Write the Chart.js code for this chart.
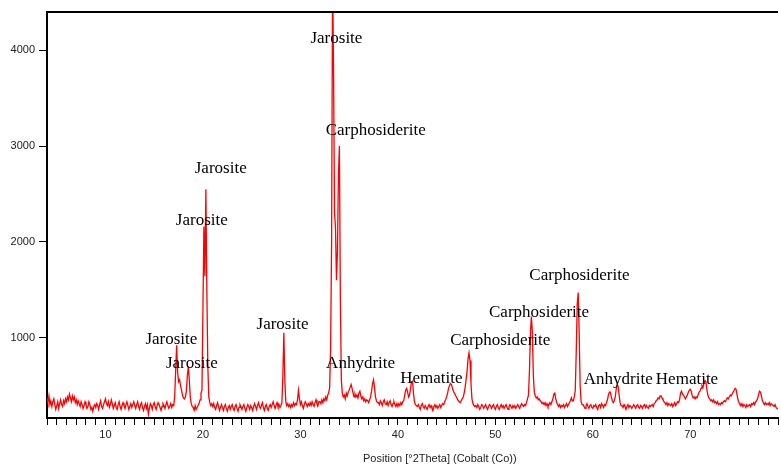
<!DOCTYPE html>
<html>
<head>
<meta charset="utf-8">
<script src="https://cdn.jsdelivr.net/npm/chart.js@4.4.0/dist/chart.umd.min.js"></script>
<style>
  html, body { margin: 0; padding: 0; background: #fff; }
  #wrap { width: 781px; height: 468px; }
</style>
</head>
<body>
<div id="wrap"><canvas id="xrd" width="781" height="468"></canvas></div>
<script>
// scan grid: 4.0 .. 79.0 deg 2theta, 0.1 deg step
const startAngle = 4.0
const angleStep = 0.1

// counts, one row per degree
const counts = [
  370,320,390,300,340,280,330,360,300,250, // 4
  290,330,260,310,350,300,280,340,310,360, // 5
  330,380,350,410,370,330,390,350,380,320, // 6
  350,300,340,310,280,330,300,260,290,330, // 7
  300,260,280,330,300,250,270,230,280,300, // 8
  270,310,290,250,300,340,280,260,300,330, // 9
  360,310,290,330,270,300,350,310,260,290, // 10
  320,270,250,300,330,280,250,290,320,290, // 11
  260,300,330,290,250,280,310,270,300,330, // 12
  290,260,300,330,280,250,300,320,270,240, // 13
  280,310,260,300,200,260,310,290,250,300, // 14
  320,280,250,290,320,300,270,240,280,310, // 15
  290,260,300,330,290,260,280,310,270,300, // 16
  290,380,650,920,640,540,560,500,450,400, // 17
  370,360,380,440,600,700,560,380,310,280, // 18
  270,240,290,250,270,290,310,350,420,450, // 19
  1300,2160,1640,2550,1500,700,380,320,290,310, // 20
  280,310,270,250,290,320,280,240,270,300, // 21
  270,240,280,300,260,230,270,290,250,280, // 22
  300,260,240,280,300,260,230,270,300,280, // 23
  250,280,300,260,230,270,300,280,250,290, // 24
  270,240,280,310,280,250,290,320,280,260, // 25
  290,320,270,240,280,300,260,240,280,300, // 26
  270,300,330,290,260,290,320,280,300,270, // 27
  290,320,600,1050,560,330,290,310,280,300, // 28
  270,300,280,320,290,310,300,350,450,360, // 29
  300,330,290,260,300,330,310,280,310,290, // 30
  320,290,330,300,280,320,350,310,290,330, // 31
  330,310,350,320,360,340,380,350,400,420, // 32
  480,900,2000,4800,3800,2300,2150,1600,1900,2700, // 33
  3000,1400,550,420,380,400,360,420,390,430, // 34
  450,480,510,470,420,380,410,380,400,370, // 35
  420,440,390,360,380,340,360,330,350,340, // 36
  320,350,380,440,520,560,480,380,340,320, // 37
  320,300,340,320,290,330,350,310,300,330, // 38
  290,320,340,300,280,310,330,300,280,310, // 39
  280,310,290,320,300,330,340,400,450,470, // 40
  430,380,400,470,540,545,420,330,300,290, // 41
  280,300,270,250,290,310,280,260,290,270, // 42
  250,280,300,270,290,260,240,280,300,270, // 43
  290,260,280,300,270,290,310,300,330,350, // 44
  380,420,470,500,520,510,470,440,420,400, // 45
  380,360,340,330,320,340,360,380,420,480, // 46
  560,650,780,840,760,520,360,310,290,280, // 47
  290,270,300,280,250,270,300,290,260,280, // 48
  300,270,250,280,300,290,260,280,300,270, // 49
  250,280,300,270,250,280,300,270,290,260, // 50
  280,300,270,250,280,300,280,260,290,270, // 51
  290,260,280,300,280,260,290,310,290,280, // 52
  300,290,320,360,400,650,1050,1220,1050,600, // 53
  430,390,370,380,350,360,340,330,310,320, // 54
  300,320,290,310,280,300,320,300,330,360, // 55
  410,420,360,320,300,280,300,270,290,280, // 56
  300,270,290,310,280,300,320,340,370,340, // 57
  340,380,450,850,1350,1470,1050,500,330,300, // 58
  300,280,260,290,310,280,260,290,300,270, // 59
  260,290,280,300,270,250,290,300,270,310, // 60
  290,270,300,290,320,350,400,430,430,380, // 61
  340,320,340,380,460,510,490,400,320,290, // 62
  290,270,300,280,250,280,300,270,290,280, // 63
  260,280,300,280,260,290,300,270,260,290, // 64
  280,260,290,300,270,290,270,260,290,280, // 65
  290,300,280,310,320,340,350,370,360,390, // 66
  390,370,350,330,320,300,320,290,310,300, // 67
  290,310,280,300,320,290,310,330,320,350, // 68
  420,440,410,400,380,360,380,400,430,450, // 69
  460,440,390,370,380,360,380,370,400,430, // 70
  440,470,500,480,520,550,540,460,400,370, // 71
  360,340,350,330,350,320,330,310,330,300, // 72
  310,300,320,310,330,340,330,350,370,360, // 73
  380,400,390,410,430,450,470,460,400,350, // 74
  320,300,290,310,280,300,290,270,300,280, // 75
  290,300,280,310,300,320,300,330,340,360, // 76
  400,440,430,390,340,320,300,320,300,310, // 77
  300,320,290,310,300,290,280,300,270,260, // 78
  255                                      // 79
]

const yTicks = [1000, 2000, 3000, 4000]

// phase labels, placed in data units (2theta, counts)
const peakLabels = [
  { text: 'Jarosite', x: 33.59, y: 4143 },
  { text: 'Carphosiderite', x: 37.62, y: 3182 },
  { text: 'Jarosite', x: 21.72, y: 2784 },
  { text: 'Jarosite', x: 19.78, y: 2241 },
  { text: 'Jarosite', x: 16.66, y: 997 },
  { text: 'Jarosite', x: 18.76, y: 746 },
  { text: 'Jarosite', x: 28.06, y: 1154 },
  { text: 'Anhydrite', x: 36.07, y: 746 },
  { text: 'Hematite', x: 43.34, y: 589 },
  { text: 'Carphosiderite', x: 50.4, y: 986 },
  { text: 'Carphosiderite', x: 54.38, y: 1279 },
  { text: 'Carphosiderite', x: 58.52, y: 1666 },
  { text: 'Anhydrite', x: 62.51, y: 579 },
  { text: 'Hematite', x: 69.56, y: 579 },
]

const xTitle = 'Position [°2Theta] (Cobalt (Co))'

const points = counts.map((c, i) => ({ x: Math.round((startAngle + i * angleStep) * 10) / 10, y: c }))

const labelPlugin = {
  id: 'peakLabels',
  afterDraw(chart) {
    const { ctx, chartArea, scales } = chart
    ctx.save()
    // top frame line
    ctx.strokeStyle = '#000'
    ctx.lineWidth = 2
    ctx.beginPath()
    ctx.moveTo(chartArea.left, chartArea.top)
    ctx.lineTo(chartArea.right, chartArea.top)
    ctx.stroke()

    ctx.fillStyle = '#000'
    ctx.textAlign = 'center'
    ctx.textBaseline = 'middle'
    ctx.font = '17px "Liberation Serif", "Times New Roman", serif'
    peakLabels.forEach((l) => {
      ctx.fillText(l.text, scales.x.getPixelForValue(l.x) + 1, scales.y.getPixelForValue(l.y) + 2)
    })

    ctx.font = '11px "Liberation Sans", Arial, sans-serif'
    ctx.fillStyle = '#222'
    ctx.fillText(xTitle, scales.x.getPixelForValue(44.3), 459)
    ctx.restore()
  }
}

const ctx = document.getElementById('xrd').getContext('2d')
const xrdChart = new Chart(ctx, {
  type: 'line',
  data: {
    datasets: [{
      data: points,
      borderColor: 'rgb(255, 0, 0)',
      borderWidth: 1.3,
      pointRadius: 0,
      tension: 0,
      fill: false,
    }]
  },
  options: {
    responsive: false,
    animation: false,
    devicePixelRatio: 1,
    layout: { padding: { top: 12, right: 0, left: 0, bottom: 0 } },
    plugins: {
      legend: { display: false },
      tooltip: { enabled: false },
    },
    scales: {
      x: {
        type: 'linear',
        min: 4,
        max: 79,
        ticks: {
          stepSize: 1,
          autoSkip: false,
          maxRotation: 0,
          padding: 3,
          color: '#222',
          font: { family: '"Liberation Sans", Arial, sans-serif', size: 11 },
          callback: (v) => (v % 10 === 0 ? String(v) : ''),
        },
        grid: { drawOnChartArea: false, drawTicks: true, tickLength: 7, color: '#000' },
        border: { color: '#000', width: 2 },
        afterFit: (s) => { s.height = 50 },
      },
      y: {
        type: 'linear',
        min: 160,
        max: 4400,
        afterBuildTicks: (s) => { s.ticks = yTicks.map((v) => ({ value: v })) },
        ticks: {
          padding: 4,
          color: '#222',
          font: { family: '"Liberation Sans", Arial, sans-serif', size: 11 },
          callback: (v) => String(v),
        },
        grid: { drawOnChartArea: false, drawTicks: true, tickLength: 8, color: '#000' },
        border: { color: '#000', width: 2 },
        afterFit: (s) => { s.width = 47 },
      },
    },
  },
  plugins: [labelPlugin],
})
</script>
</body>
</html>
